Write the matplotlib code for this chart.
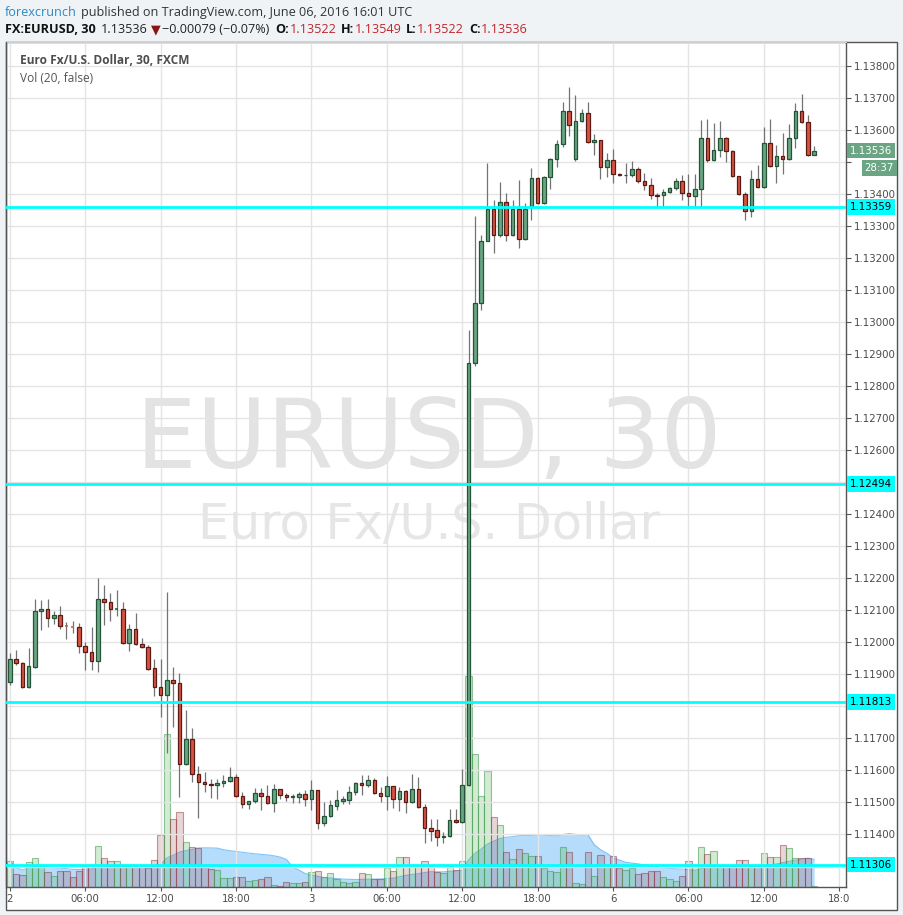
import matplotlib
matplotlib.use('Agg')
import matplotlib.pyplot as plt
from matplotlib.patches import Rectangle
import numpy as np
import pandas as pd

# ---------------- data (EUR/USD, 30 min, FXCM) ----------------
opens = [1.11876,1.11948,1.11936,1.11861,1.11923,1.12098,1.12104,1.12076,1.12086,1.12051,
         1.12050,1.12049,1.11989,1.11970,1.11942,1.12135,1.12126,1.12104,1.12104,1.11998,
         1.12042,1.11995,1.11985,1.11920,1.11861,1.11836,1.11882,1.11873,1.11620,1.11698,
         1.11589,1.11564,1.11558,1.11553,1.11561,1.11566,1.11580,1.11520,1.11495,1.11505,
         1.11530,1.11520,1.11498,1.11542,1.11523,1.11517,1.11517,1.11526,1.11511,1.11539,
         1.11436,1.11458,1.11490,1.11505,1.11508,1.11533,1.11561,1.11555,1.11570,1.11530,
         1.11520,1.11551,1.11511,1.11536,1.11501,1.11542,1.11486,1.11420,1.11414,1.11392,
         1.11394,1.11445,1.11439,1.11555,1.12873,1.13060,1.13253,1.13353,1.13272,1.13375,
         1.13272,1.13353,1.13260,1.13363,1.13450,1.13372,1.13453,1.13510,1.13556,1.13659,
         1.13510,1.13628,1.13653,1.13563,1.13569,1.13485,1.13506,1.13463,1.13459,1.13460,
         1.13478,1.13441,1.13428,1.13397,1.13397,1.13407,1.13419,1.13441,1.13403,1.13394,
         1.13416,1.13575,1.13506,1.13538,1.13575,1.13535,1.13456,1.13400,1.13347,1.13447,
         1.13422,1.13560,1.13488,1.13519,1.13510,1.13575,1.13659,1.13625,1.13522]
highs = [1.11967,1.11976,1.11939,1.11982,1.12135,1.12132,1.12135,1.12098,1.12114,1.12064,
         1.12067,1.12061,1.12001,1.12048,1.12201,1.12179,1.12154,1.12163,1.12126,1.12057,
         1.12092,1.12014,1.11992,1.11948,1.11948,1.12157,1.11923,1.11904,1.11789,1.11733,
         1.11614,1.11595,1.11573,1.11573,1.11586,1.11611,1.11589,1.11533,1.11506,1.11545,
         1.11545,1.11555,1.11558,1.11543,1.11530,1.11526,1.11533,1.11539,1.11570,1.11540,
         1.11501,1.11508,1.11539,1.11520,1.11551,1.11564,1.11586,1.11586,1.11576,1.11548,
         1.11583,1.11552,1.11548,1.11539,1.11589,1.11580,1.11495,1.11448,1.11448,1.11408,
         1.11480,1.11480,1.11605,1.12976,1.13332,1.13272,1.13497,1.13382,1.13438,1.13403,
         1.13382,1.13444,1.13372,1.13481,1.13452,1.13455,1.13513,1.13569,1.13688,1.13734,
         1.13709,1.13666,1.13688,1.13588,1.13570,1.13528,1.13541,1.13466,1.13497,1.13503,
         1.13485,1.13466,1.13450,1.13403,1.13416,1.13422,1.13450,1.13460,1.13463,1.13463,
         1.13631,1.13634,1.13622,1.13628,1.13578,1.13537,1.13457,1.13407,1.13475,1.13491,
         1.13610,1.13634,1.13553,1.13591,1.13619,1.13684,1.13713,1.13647,1.13549]
lows = [1.11867,1.11929,1.11858,1.11858,1.11920,1.12039,1.12048,1.12057,1.12042,1.12011,
        1.12029,1.11967,1.11914,1.11914,1.11907,1.12054,1.12067,1.12082,1.11996,1.11973,
        1.11993,1.11982,1.11915,1.11832,1.11767,1.11654,1.11736,1.11517,1.11618,1.11564,
        1.11451,1.11533,1.11514,1.11511,1.11548,1.11564,1.11518,1.11483,1.11480,1.11498,
        1.11477,1.11496,1.11470,1.11511,1.11505,1.11498,1.11498,1.11489,1.11477,1.11417,
        1.11427,1.11455,1.11477,1.11495,1.11495,1.11523,1.11523,1.11548,1.11528,1.11501,
        1.11477,1.11483,1.11473,1.11467,1.11499,1.11484,1.11373,1.11380,1.11364,1.11373,
        1.11392,1.11437,1.11437,1.11552,1.12863,1.13038,1.13252,1.13216,1.13266,1.13253,
        1.13270,1.13232,1.13258,1.13319,1.13370,1.13370,1.13416,1.13485,1.13547,1.13581,
        1.13503,1.13626,1.13560,1.13522,1.13447,1.13453,1.13435,1.13457,1.13435,1.13453,
        1.13435,1.13413,1.13385,1.13360,1.13360,1.13403,1.13413,1.13382,1.13360,1.13360,
        1.13360,1.13500,1.13504,1.13516,1.13500,1.13454,1.13397,1.13319,1.13328,1.13420,
        1.13420,1.13486,1.13435,1.13463,1.13508,1.13544,1.13623,1.13520,1.13522]
closes = [1.11948,1.11936,1.11861,1.11926,1.12098,1.12104,1.12076,1.12086,1.12051,1.12050,
          1.12049,1.11989,1.11970,1.11942,1.12135,1.12126,1.12104,1.12105,1.11998,1.12042,
          1.11995,1.11985,1.11917,1.11861,1.11836,1.11882,1.11873,1.11620,1.11698,1.11589,
          1.11564,1.11558,1.11553,1.11561,1.11567,1.11580,1.11520,1.11495,1.11505,1.11530,
          1.11520,1.11498,1.11542,1.11523,1.11517,1.11520,1.11526,1.11511,1.11539,1.11436,
          1.11458,1.11492,1.11508,1.11511,1.11533,1.11561,1.11555,1.11570,1.11530,1.11520,
          1.11551,1.11511,1.11536,1.11501,1.11542,1.11486,1.11420,1.11411,1.11392,1.11394,
          1.11445,1.11439,1.11555,1.12873,1.13060,1.13253,1.13353,1.13272,1.13375,1.13272,
          1.13353,1.13260,1.13353,1.13450,1.13372,1.13453,1.13510,1.13556,1.13659,1.13616,
          1.13628,1.13653,1.13563,1.13569,1.13485,1.13506,1.13463,1.13460,1.13461,1.13478,
          1.13441,1.13428,1.13397,1.13395,1.13407,1.13419,1.13441,1.13403,1.13394,1.13416,
          1.13575,1.13506,1.13538,1.13575,1.13535,1.13456,1.13400,1.13347,1.13447,1.13422,
          1.13560,1.13488,1.13519,1.13510,1.13575,1.13659,1.13625,1.13522,1.13536]
volumes = [26,13,12,25,29,21,15,11,16,16,10,16,21,20,41,29,26,26,22,21,
           20,20,19,27,52,153,68,75,45,40,39,20,18,17,9,9,10,10,6,7,
           8,10,2,1,5,4,4,5,15,16,10,14,8,5,4,5,14,13,8,8,
           19,16,30,30,22,21,26,21,15,14,21,17,26,211,133,91,116,70,62,35,
           28,38,34,31,31,19,16,15,40,35,4,3,35,11,32,20,31,19,17,19,
           13,14,16,16,10,8,6,11,26,20,40,33,36,21,21,21,27,27,21,21,
           34,30,30,42,39,29,29,29,1]

tick_idx = [0, 12, 24, 36, 48, 60, 72, 84, 96, 108, 120, 132]
tick_labels = ['2', '06:00', '12:00', '18:00', '3', '06:00', '12:00', '18:00',
               '6', '06:00', '12:00', '18:0']
price_ticks = [round(1.113 + 0.001 * k, 3) for k in range(26)]
levels = [1.13359, 1.12494, 1.11813, 1.11306]
last_price = 1.13536
countdown = '28:37'
ma_length = 20

# ---------------- figure ----------------
W, H = 904, 915
fig = plt.figure(figsize=(W / 100, H / 100), dpi=100)
fig.patch.set_facecolor('#f0f3f5')
FONT = ['Open Sans', 'DejaVu Sans']

# white chart panel
fig.add_artist(Rectangle((6.5 / W, 1 - 910 / H), (897.5 - 6.5) / W, (910 - 42) / H,
                         transform=fig.transFigure, facecolor='white',
                         edgecolor='#555555', lw=1.0, zorder=0))

rect = [6.5 / W, 1 - 887 / H, (846.5 - 6.5) / W, (887 - 42) / H]
axv = fig.add_axes(rect, zorder=1)
ax = fig.add_axes(rect, zorder=2)
ax.patch.set_alpha(0)

n = len(opens)
x = np.arange(n)
xlim = (-0.53, 133.15)

# ---------------- volume pane ----------------
o = np.array(opens); c = np.array(closes)
up = c >= o
vol_ma = pd.Series(volumes, dtype=float).rolling(ma_length, min_periods=1).mean()
axv.fill_between(x, 0, vol_ma, color='#2196f3', alpha=0.33, lw=0, zorder=2)
axv.plot(x, vol_ma, color='#64b5f6', lw=0.8, alpha=0.8, zorder=2)
face = [(0.30, 0.69, 0.31, 0.25) if u else (0.60, 0.25, 0.27, 0.22) for u in up]
edge = [(0.25, 0.60, 0.30, 0.55) if u else (0.55, 0.22, 0.25, 0.50) for u in up]
axv.bar(x, volumes, width=1.0, color=face, edgecolor=edge, lw=0.8, zorder=3)
axv.set_xlim(*xlim)
axv.set_ylim(0, 845)
axv.axis('off')

# ---------------- price pane ----------------
ax.set_xlim(*xlim)
ax.set_ylim(1.11236, 1.13875)
ax.set_axisbelow(True)
ax.grid(True, color='#e4e4e4', lw=1.0)

# watermark
ax.text(0.5024, 0.4959, 'EURUSD, 30', transform=ax.transAxes, ha='center',
        va='baseline', fontsize=69, color='#e3e3e3', family='DejaVu Sans', zorder=0.3)
ax.text(0.5033, 0.4118, 'Euro Fx/U.S. Dollar', transform=ax.transAxes, ha='center',
        va='baseline', fontsize=35.5, color='#e6e6e6', family='DejaVu Sans', zorder=0.3)

# candles
bw = 0.56
for i in range(n):
    ax.vlines(i, lows[i], highs[i], color='#737375', lw=0.9, zorder=3)
    bot = min(opens[i], closes[i])
    hgt = abs(closes[i] - opens[i])
    if up[i]:
        fc, ec = '#6ba583', '#225437'
    else:
        fc, ec = '#d75442', '#5b1a13'
    if hgt < 1.5e-5:
        ax.hlines(closes[i], i - bw / 2, i + bw / 2, color=fc if not up[i] else ec,
                  lw=1.1, zorder=4)
    else:
        ax.add_patch(Rectangle((i - bw / 2, bot), bw, hgt, facecolor=fc,
                               edgecolor=ec, lw=0.9, zorder=4))

# horizontal levels
for lv in levels:
    ax.axhline(lv, color='#00ffff', lw=2.0, zorder=6)

# axes styling
for s in ['left', 'bottom', 'right']:
    ax.spines[s].set_color('#555555')
    ax.spines[s].set_linewidth(1.0)
ax.spines['top'].set_color('#cfcfcf')
ax.spines['top'].set_linewidth(0.8)

# price scale: labels hidden where the coloured boxes cover them
covered = levels + [last_price, last_price - 0.00053]
ylabels = ['' if min(abs(p - cv) for cv in covered) < 0.00022 else f'{p:.5f}'
           for p in price_ticks]
ax.yaxis.tick_right()
ax.set_yticks(price_ticks)
ax.set_yticklabels(ylabels)
ax.tick_params(axis='y', length=3.5, width=0.8, color='#555555', pad=2,
               labelsize=7.4, labelcolor='#4a4a4a')
ax.set_xticks(tick_idx)
ax.set_xticklabels(tick_labels)
ax.tick_params(axis='x', length=3, width=0.8, color='#555555', pad=2,
               labelsize=7.3, labelcolor='#4a4a4a')
for lab in ax.get_yticklabels() + ax.get_xticklabels():
    lab.set_family('DejaVu Sans')

# price scale labels
ytr = ax.get_yaxis_transform()
for lv in levels:
    ax.text(1.0036, lv, f'{lv:.5f}', transform=ytr, ha='left', va='center',
            fontsize=7.4, color='black', family='DejaVu Sans', clip_on=False, zorder=10,
            bbox=dict(boxstyle='square,pad=0.28', fc='#00ffff', ec='none'))
ax.text(1.0036, last_price, f'{last_price:.5f}', transform=ytr, ha='left', va='center',
        fontsize=7.4, color='white', family='DejaVu Sans', clip_on=False, zorder=11,
        bbox=dict(boxstyle='square,pad=0.28', fc='#6ba583', ec='none'))
ax.text(1.0565, last_price - 0.00055, countdown, transform=ytr, ha='right', va='center',
        fontsize=7.4, color='white', family='DejaVu Sans', clip_on=False, zorder=11,
        bbox=dict(boxstyle='square,pad=0.28', fc='#6ba583', ec='none'))

# legend texts inside chart
ax.text(14 / 840, 1 - (61 - 42) / 845, 'Euro Fx/U.S. Dollar, 30, FXCM', transform=ax.transAxes,
        ha='left', va='center', fontsize=8.6, fontweight='bold', color='#4d4d4d',
        family=FONT, zorder=12)
ax.text(14 / 840, 1 - (78 - 42) / 845, 'Vol (20, false)', transform=ax.transAxes,
        ha='left', va='center', fontsize=8.6, color='#555555', family=FONT, zorder=12)

# ---------------- header ----------------
renderer = fig.canvas.get_renderer()

def chain(parts, x0, ybase):
    xp = x0
    for s, kw, gap in parts:
        t = fig.text(xp / W, 1 - ybase / H, s, ha='left', va='baseline',
                     family=FONT, **kw)
        xp += t.get_window_extent(renderer).width + gap

red = '#c0272d'
fs = 9.1
chain([('forexcrunch', dict(fontsize=fs, color='#2a8ac6'), 4),
       ('published on TradingView.com, June 06, 2016 16:01 UTC',
        dict(fontsize=fs, color='#333333'), 0)], 5, 16)
chain([('FX:EURUSD, 30', dict(fontsize=fs, color='#111111', fontweight='bold'), 5),
       ('1.13536', dict(fontsize=fs, color='#222222'), 3),
       ('\u25bc', dict(fontsize=fs, color='#8b1414'), 2),
       ('\u22120.00079 (\u22120.07%)', dict(fontsize=fs, color='#222222'), 6),
       ('O:', dict(fontsize=fs, color='#111111', fontweight='bold'), 0),
       ('1.13522', dict(fontsize=fs, color=red), 5),
       ('H:', dict(fontsize=fs, color='#111111', fontweight='bold'), 0),
       ('1.13549', dict(fontsize=fs, color=red), 5),
       ('L:', dict(fontsize=fs, color='#111111', fontweight='bold'), 0),
       ('1.13522', dict(fontsize=fs, color=red), 5),
       ('C:', dict(fontsize=fs, color='#111111', fontweight='bold'), 0),
       ('1.13536', dict(fontsize=fs, color=red), 0)], 5, 33)

fig.savefig('out.png', dpi=100, facecolor=fig.get_facecolor())
